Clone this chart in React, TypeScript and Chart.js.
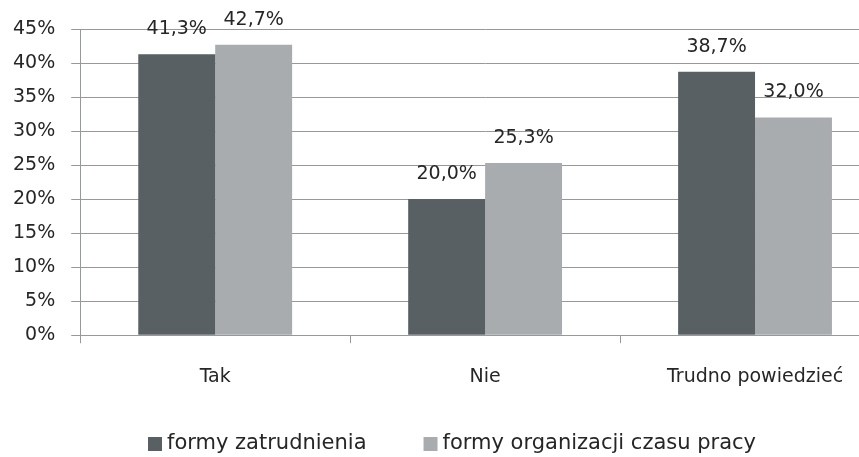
import React, { useEffect, useRef } from "react";
import { Chart, registerables } from "chart.js";

Chart.register(...registerables);

const categories = ["Tak", "Nie", "Trudno powiedzieć"];
const seriesNames = ["formy zatrudnienia", "formy organizacji czasu pracy"];
const employmentForms = [41.3, 20.0, 38.7];
const workTimeForms = [42.7, 25.3, 32.0];
const yTicks = [0, 5, 10, 15, 20, 25, 30, 35, 40, 45];

const DARK = "#596063";
const LIGHT = "#a9acae";
const GRID = "#95999c";
const TEXT = "#262626";
const FONT = "'DejaVu Sans'";

const fmt = (v: number) => v.toFixed(1).replace(".", ",") + "%";

const valueLabels = {
  id: "valueLabels",
  afterDatasetsDraw(chart: any) {
    const ctx = chart.ctx;
    ctx.save();
    ctx.font = `19px ${FONT}`;
    ctx.fillStyle = TEXT;
    ctx.textAlign = "center";
    ctx.textBaseline = "middle";
    chart.data.datasets.forEach((ds: any, di: number) => {
      const meta = chart.getDatasetMeta(di);
      meta.data.forEach((bar: any, i: number) => {
        ctx.fillText(fmt(ds.data[i]), bar.x, bar.y - 25);
      });
    });
    ctx.restore();
  },
};

const bottomLegend = {
  id: "bottomLegend",
  afterDraw(chart: any) {
    const ctx = chart.ctx;
    ctx.save();
    ctx.font = `21px ${FONT}`;
    ctx.textBaseline = "middle";
    ctx.textAlign = "left";
    const box = 14;
    const gap = 5;
    const spacing = 57;
    const items = chart.data.datasets.map((ds: any) => ({
      text: ds.label,
      color: ds.backgroundColor,
      w: ctx.measureText(ds.label).width,
    }));
    const total =
      items.reduce((s: number, it: any) => s + box + gap + it.w, 0) +
      spacing * (items.length - 1);
    let x = chart.width / 2 - total / 2;
    const cy = 444;
    items.forEach((it: any) => {
      ctx.fillStyle = it.color;
      ctx.fillRect(x, cy - box / 2, box, box);
      x += box + gap;
      ctx.fillStyle = TEXT;
      ctx.fillText(it.text, x, cy);
      x += it.w + spacing;
    });
    ctx.restore();
  },
};

export default function App() {
  const ref = useRef<HTMLCanvasElement | null>(null);
  useEffect(() => {
    if (!ref.current) return;
    const chart = new Chart(ref.current, {
      type: "bar",
      data: {
        labels: categories,
        datasets: [
          {
            label: seriesNames[0],
            data: employmentForms,
            backgroundColor: DARK,
            categoryPercentage: 0.57,
            barPercentage: 1.0,
          },
          {
            label: seriesNames[1],
            data: workTimeForms,
            backgroundColor: LIGHT,
            categoryPercentage: 0.57,
            barPercentage: 1.0,
          },
        ],
      },
      options: {
        responsive: false,
        animation: false,
        devicePixelRatio: 1,
        layout: { padding: { top: 29, left: -3, right: 14, bottom: 47 } },
        plugins: {
          legend: { display: false },
          tooltip: { enabled: false },
        },
        scales: {
          x: {
            grid: {
              offset: true,
              drawOnChartArea: false,
              drawTicks: true,
              tickLength: 8,
              color: GRID,
            },
            border: { display: true, color: GRID },
            ticks: {
              color: TEXT,
              font: { family: FONT, size: 19 },
              padding: 22,
              maxRotation: 0,
            },
          },
          y: {
            min: 0,
            max: 45,
            afterBuildTicks: (axis: any) => {
              axis.ticks = yTicks.map((v) => ({ value: v }));
            },
            grid: {
              color: GRID,
              tickLength: 9,
              drawTicks: true,
            },
            border: { display: true, color: GRID },
            ticks: {
              color: TEXT,
              font: { family: FONT, size: 19 },
              padding: 16,
              callback: (v: any) => v + "%",
            },
          },
        },
      },
      plugins: [valueLabels, bottomLegend],
    });
    return () => chart.destroy();
  }, []);
  return (
    <div
      style={{
        position: "fixed",
        left: 0,
        top: 0,
        width: 859,
        height: 457,
        overflow: "hidden",
        background: "#fff",
      }}
    >
      <canvas ref={ref} width={904} height={457} style={{ display: "block" }} />
    </div>
  );
}
